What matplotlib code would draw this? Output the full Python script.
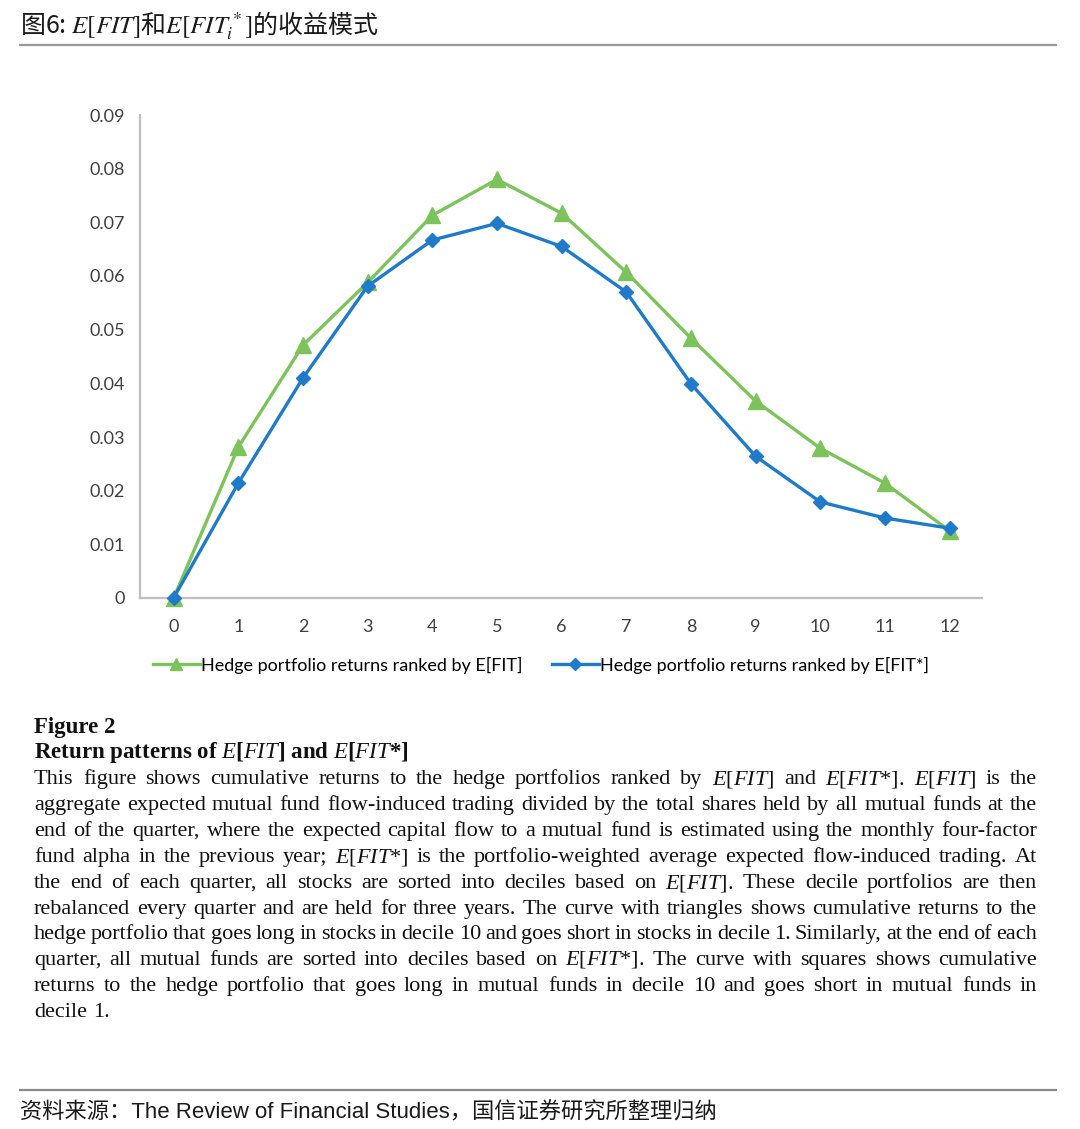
import matplotlib
matplotlib.use("Agg")
import matplotlib.pyplot as plt

# data
periods = list(range(13))
fit_returns = [0.0, 0.0281, 0.0471, 0.0588, 0.0713, 0.0780, 0.0717,
               0.0607, 0.0484, 0.0367, 0.0279, 0.0214, 0.0125]
fit_star_returns = [0.0, 0.0214, 0.0410, 0.0581, 0.0667, 0.0698, 0.0655,
                    0.0570, 0.0399, 0.0264, 0.0179, 0.0149, 0.0130]
y_ticks = [0, 0.01, 0.02, 0.03, 0.04, 0.05, 0.06, 0.07, 0.08, 0.09]
y_tick_labels = ["0", "0.01", "0.02", "0.03", "0.04", "0.05",
                 "0.06", "0.07", "0.08", "0.09"]
legend_labels = ["Hedge portfolio returns ranked by E[FIT]",
                 "Hedge portfolio returns ranked by E[FIT*]"]

title = r"图6: $E[FIT]$和$E[FIT_i^*]$的收益模式"
source = "资料来源：The Review of Financial Studies，国信证券研究所整理归纳"

EF = r"$\mathit{E}$[$\mathit{FIT}$]"
EFS = r"$\mathit{E}$[$\mathit{FIT}$*]"
caption_head = ["Figure 2", "Return patterns of " + EF + " and " + EFS]
caption_lines = [
    "This figure shows cumulative returns to the hedge portfolios ranked by "
    + EF + " and " + EFS + ". " + EF + " is the",
    "aggregate expected mutual fund flow-induced trading divided by the total shares held by all mutual funds at the",
    "end of the quarter, where the expected capital flow to a mutual fund is estimated using the monthly four-factor",
    "fund alpha in the previous year; " + EFS + " is the portfolio-weighted average expected flow-induced trading. At",
    "the end of each quarter, all stocks are sorted into deciles based on " + EF + ". These decile portfolios are then",
    "rebalanced every quarter and are held for three years. The curve with triangles shows cumulative returns to the",
    "hedge portfolio that goes long in stocks in decile 10 and goes short in stocks in decile 1. Similarly, at the end of each",
    "quarter, all mutual funds are sorted into deciles based on " + EFS + ". The curve with squares shows cumulative",
    "returns to the hedge portfolio that goes long in mutual funds in decile 10 and goes short in mutual funds in",
    "decile 1.",
]
tight_line = 6  # the line set with almost no word spacing

plt.rcParams["mathtext.fontset"] = "custom"
plt.rcParams["mathtext.rm"] = "Liberation Serif"
plt.rcParams["mathtext.it"] = "Liberation Serif:italic"
plt.rcParams["mathtext.bf"] = "Liberation Serif:bold"

W, H = 1080, 1129
fig = plt.figure(figsize=(W / 100, H / 100), dpi=100)


def fx(px):
    return px / W


def fy(py):
    return 1 - py / H


green = "#7cc35b"
blue = "#1f7bc9"
axis_grey = "#bfbfbf"
tick_color = "#404040"

ax = fig.add_axes([fx(140), fy(598), fx(982) - fx(140), fy(115) - fy(598)])
ax.plot(periods, fit_returns, color=green, lw=2.4, marker="^", ms=11,
        label=legend_labels[0], clip_on=False, zorder=3)
ax.plot(periods, fit_star_returns, color=blue, lw=2.4, marker="D", ms=7.5,
        label=legend_labels[1], clip_on=False, zorder=4)
ax.set_xlim(-0.52, 12.5)
ax.set_ylim(0, 0.09)
ax.set_xticks(periods)
ax.set_xticklabels([str(p) for p in periods])
ax.set_yticks(y_ticks)
ax.set_yticklabels(y_tick_labels)
for side in ["top", "right"]:
    ax.spines[side].set_visible(False)
for side in ["left", "bottom"]:
    ax.spines[side].set_color(axis_grey)
    ax.spines[side].set_linewidth(1.6)
ax.tick_params(length=0, labelsize=13, labelcolor=tick_color)
ax.tick_params(axis="x", pad=15)
ax.tick_params(axis="y", pad=11)
for lab in ax.get_xticklabels() + ax.get_yticklabels():
    lab.set_fontfamily("Lato")

fig.legend(loc="center", bbox_to_anchor=(fx(541), fy(665)), ncol=2,
           frameon=False, handlelength=2.6, handletextpad=0.1,
           columnspacing=1.6, markerscale=0.75,
           prop={"family": "Lato", "size": 13})

# title and rules
fig.text(fx(20), fy(26), title, fontsize=18, va="center", ha="left",
         family=["Noto Sans CJK SC", "DejaVu Sans"], math_fontfamily="stix",
         color="#1a1a1a")
fig.add_artist(plt.Line2D([fx(20), fx(1056)], [fy(45), fy(45)],
                          color="#9a9a9a", lw=1.6))
fig.add_artist(plt.Line2D([fx(20), fx(1056)], [fy(1090), fy(1090)],
                          color="#8a8a8a", lw=1.6))
fig.text(fx(20), fy(1113), source, fontsize=16, va="center", ha="left",
         family=["Liberation Sans", "Noto Sans CJK SC"], color="#1a1a1a")

# caption, justified word by word
renderer = fig.canvas.get_renderer()
left_px, right_px = 34, 1037
width_px = right_px - left_px


def measure(s, size, weight="normal"):
    t = fig.text(0, 0, s, fontsize=size, family="Liberation Serif",
                 weight=weight)
    w = t.get_window_extent(renderer).width
    t.remove()
    return w


size = 16.0
while size > 9:
    space = measure("x x", size) - measure("xx", size)
    ok = True
    for i, line in enumerate(caption_lines[:-1]):
        words = line.split(" ")
        total = sum(measure(w, size) for w in words)
        factor = 0.12 if i == tight_line else 0.8
        if total + factor * space * (len(words) - 1) > width_px:
            ok = False
            break
    if ok:
        break
    size -= 0.25

head_base = [733, 758]
for text_line, base in zip(caption_head, head_base):
    fig.text(fx(left_px), fy(base), text_line, fontsize=size + 0.5,
             weight="bold", family="Liberation Serif", va="baseline",
             color="#111111")

base_y = [784, 810, 836, 862, 888, 914, 939, 965, 991, 1017]
for i, (line, base) in enumerate(zip(caption_lines, base_y)):
    words = line.split(" ")
    widths = [measure(w, size) for w in words]
    if i < len(caption_lines) - 1:
        gap = (width_px - sum(widths)) / (len(words) - 1)
    else:
        gap = measure("x x", size) - measure("xx", size)
    x = left_px
    for w, wd in zip(words, widths):
        fig.text(fx(x), fy(base), w, fontsize=size, family="Liberation Serif",
                 va="baseline", ha="left", color="#111111")
        x += wd + gap

fig.savefig("out.png", dpi=100)
